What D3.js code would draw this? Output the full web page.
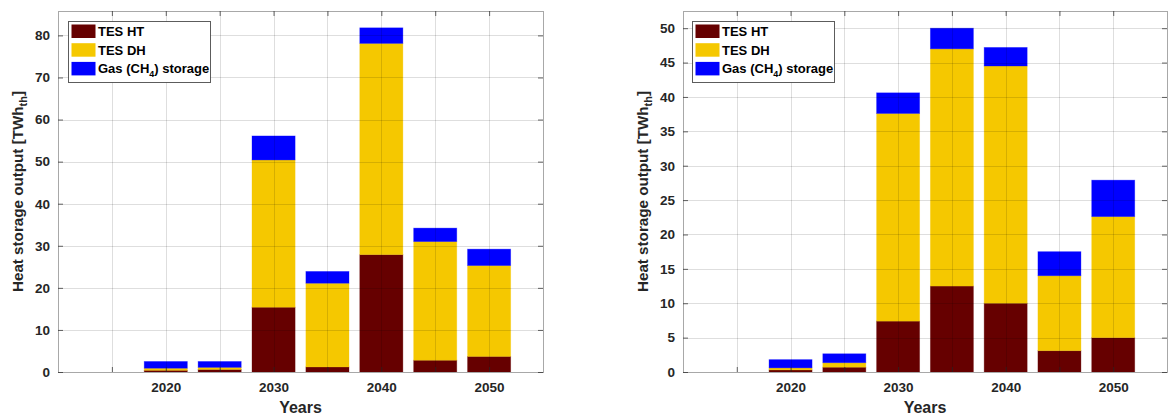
<!DOCTYPE html>
<html>
<head>
<meta charset="utf-8">
<script src="https://cdn.jsdelivr.net/npm/d3@7"></script>
<style>
  body { margin: 0; background: #fff; }
  svg { display: block; font-family: "Liberation Sans", Arial, sans-serif; }
</style>
</head>
<body>
<svg id="chart" width="1169" height="418"></svg>
<script>
// Years shown on each panel
const years = [2020, 2025, 2030, 2035, 2040, 2045, 2050];
const seriesNames = ["TES HT", "TES DH", "Gas (CH4) storage"];
const seriesColors = ["#660000", "#F5C800", "#0000FF"];
const xTicks = [2015, 2020, 2025, 2030, 2035, 2040, 2045, 2050];
const xTickLabels = ["", "2020", "", "2030", "", "2040", "", "2050"];

// Left panel, TWh_th
const leftHT = [0.4, 0.6, 15.4, 1.2, 27.9, 2.8, 3.7];
const leftDH = [0.5, 0.5, 35.0, 19.9, 50.2, 28.2, 21.6];
const leftGas = [1.6, 1.4, 5.7, 2.8, 3.7, 3.2, 3.9];
const leftYTicks = [0, 10, 20, 30, 40, 50, 60, 70, 80];

// Right panel, TWh_th
const rightHT = [0.3, 0.7, 7.4, 12.5, 10.0, 3.1, 5.0];
const rightDH = [0.3, 0.65, 30.2, 34.5, 34.5, 10.9, 17.6];
const rightGas = [1.2, 1.3, 3.0, 3.0, 2.7, 3.5, 5.3];
const rightYTicks = [0, 5, 10, 15, 20, 25, 30, 35, 40, 45, 50];

const svg = d3.select("#chart");

function panel(cfg) {
  const { x0, x1, y0, y1, ht, dh, gas, yTicks, yMax, legendX } = cfg;
  const g = svg.append("g");

  const x = d3.scaleLinear().domain([2010, 2055]).range([x0, x1]);
  const y = d3.scaleLinear().domain([0, yMax]).range([y1, y0]);
  const barW = (x(2015) - x(2010)) * 0.8;

  // stacked data
  const rows = years.map((yr, i) => ({ year: yr, ht: ht[i], dh: dh[i], gas: gas[i] }));
  const stack = d3.stack().keys(["ht", "dh", "gas"])(rows);

  // bars
  stack.forEach((layer, k) => {
    g.append("g").selectAll("rect").data(layer).join("rect")
      .attr("x", d => x(d.data.year) - barW / 2)
      .attr("width", barW)
      .attr("y", d => y(d[1]))
      .attr("height", d => y(d[0]) - y(d[1]))
      .attr("fill", seriesColors[k])
      .attr("stroke", seriesColors[k])
      .attr("stroke-opacity", 0.4)
      .attr("stroke-width", 0.8);
  });

  // grid on top of bars
  const grid = g.append("g").attr("stroke", "#000").attr("stroke-opacity", 0.13).attr("stroke-width", 1);
  grid.selectAll("line.gy").data(yTicks.filter(t => t > 0)).join("line")
    .attr("x1", x0).attr("x2", x1)
    .attr("y1", d => Math.round(y(d)) + 0.5).attr("y2", d => Math.round(y(d)) + 0.5);
  grid.selectAll("line.gx").data(xTicks).join("line")
    .attr("y1", y0).attr("y2", y1)
    .attr("x1", d => Math.round(x(d)) + 0.5).attr("x2", d => Math.round(x(d)) + 0.5);

  // axes box
  g.append("rect")
    .attr("x", x0 + 0.5).attr("y", y0 + 0.5)
    .attr("width", x1 - x0).attr("height", y1 - y0)
    .attr("fill", "none").attr("stroke", "#a8a8a8").attr("stroke-width", 1);

  // axes with inward ticks
  const axisStyle = sel => {
    sel.select(".domain").remove();
    sel.selectAll(".tick line").attr("stroke", "#262626").attr("stroke-opacity", 0.7);
    sel.selectAll(".tick text")
      .attr("fill", "#262626").attr("font-size", 13.5).attr("font-weight", "bold");
  };
  g.append("g").attr("transform", `translate(0,${y1})`)
    .call(d3.axisBottom(x).tickValues(xTicks).tickSize(-5).tickPadding(10)
      .tickFormat((d, i) => xTickLabels[i]))
    .call(axisStyle);
  g.append("g").attr("transform", `translate(0,${y0})`)
    .call(d3.axisTop(x).tickValues(xTicks).tickSize(-5).tickFormat(""))
    .call(axisStyle);
  g.append("g").attr("transform", `translate(${x0},0)`)
    .call(d3.axisLeft(y).tickValues(yTicks).tickSize(-5).tickPadding(8))
    .call(axisStyle);
  g.append("g").attr("transform", `translate(${x1},0)`)
    .call(d3.axisRight(y).tickValues(yTicks).tickSize(-5).tickFormat(""))
    .call(axisStyle);

  // axis titles
  g.append("text")
    .attr("x", (x0 + x1) / 2).attr("y", 413)
    .attr("text-anchor", "middle")
    .attr("font-size", 16).attr("font-weight", "bold").attr("fill", "#262626")
    .text("Years");

  const yl = g.append("text")
    .attr("transform", `translate(${x0 - 35},${(y0 + y1) / 2}) rotate(-90)`)
    .attr("text-anchor", "middle")
    .attr("font-size", 15.2).attr("font-weight", "bold").attr("fill", "#262626");
  yl.append("tspan").text("Heat storage output [TWh");
  yl.append("tspan").attr("font-size", 11).attr("dy", 4).text("th");
  yl.append("tspan").attr("dy", -4).text("]");

  // legend
  const lg = g.append("g").attr("transform", `translate(${legendX},${y0 + 10})`);
  lg.append("rect").attr("x", 0.5).attr("y", 0.5).attr("width", 142).attr("height", 61)
    .attr("fill", "#fff").attr("stroke", "#333").attr("stroke-opacity", 0.8);
  seriesNames.forEach((name, i) => {
    const ry = 3.5 + i * 18.7;
    lg.append("rect").attr("x", 3.5).attr("y", ry).attr("width", 24).attr("height", 13.5)
      .attr("fill", seriesColors[i]);
    const t = lg.append("text").attr("x", 30).attr("y", ry + 11.5)
      .attr("font-size", 13).attr("font-weight", "bold").attr("fill", "#000");
    if (i === 2) {
      t.append("tspan").text("Gas (CH");
      t.append("tspan").attr("font-size", 9).attr("dy", 4).text("4");
      t.append("tspan").attr("dy", -4).text(") storage");
    } else {
      t.text(name);
    }
  });
}

panel({
  x0: 58, x1: 543, y0: 11, y1: 372,
  ht: leftHT, dh: leftDH, gas: leftGas,
  yTicks: leftYTicks, yMax: 85.8, legendX: 68
});

panel({
  x0: 683, x1: 1167, y0: 11, y1: 372,
  ht: rightHT, dh: rightDH, gas: rightGas,
  yTicks: rightYTicks, yMax: 52.5, legendX: 692
});
</script>
</body>
</html>
